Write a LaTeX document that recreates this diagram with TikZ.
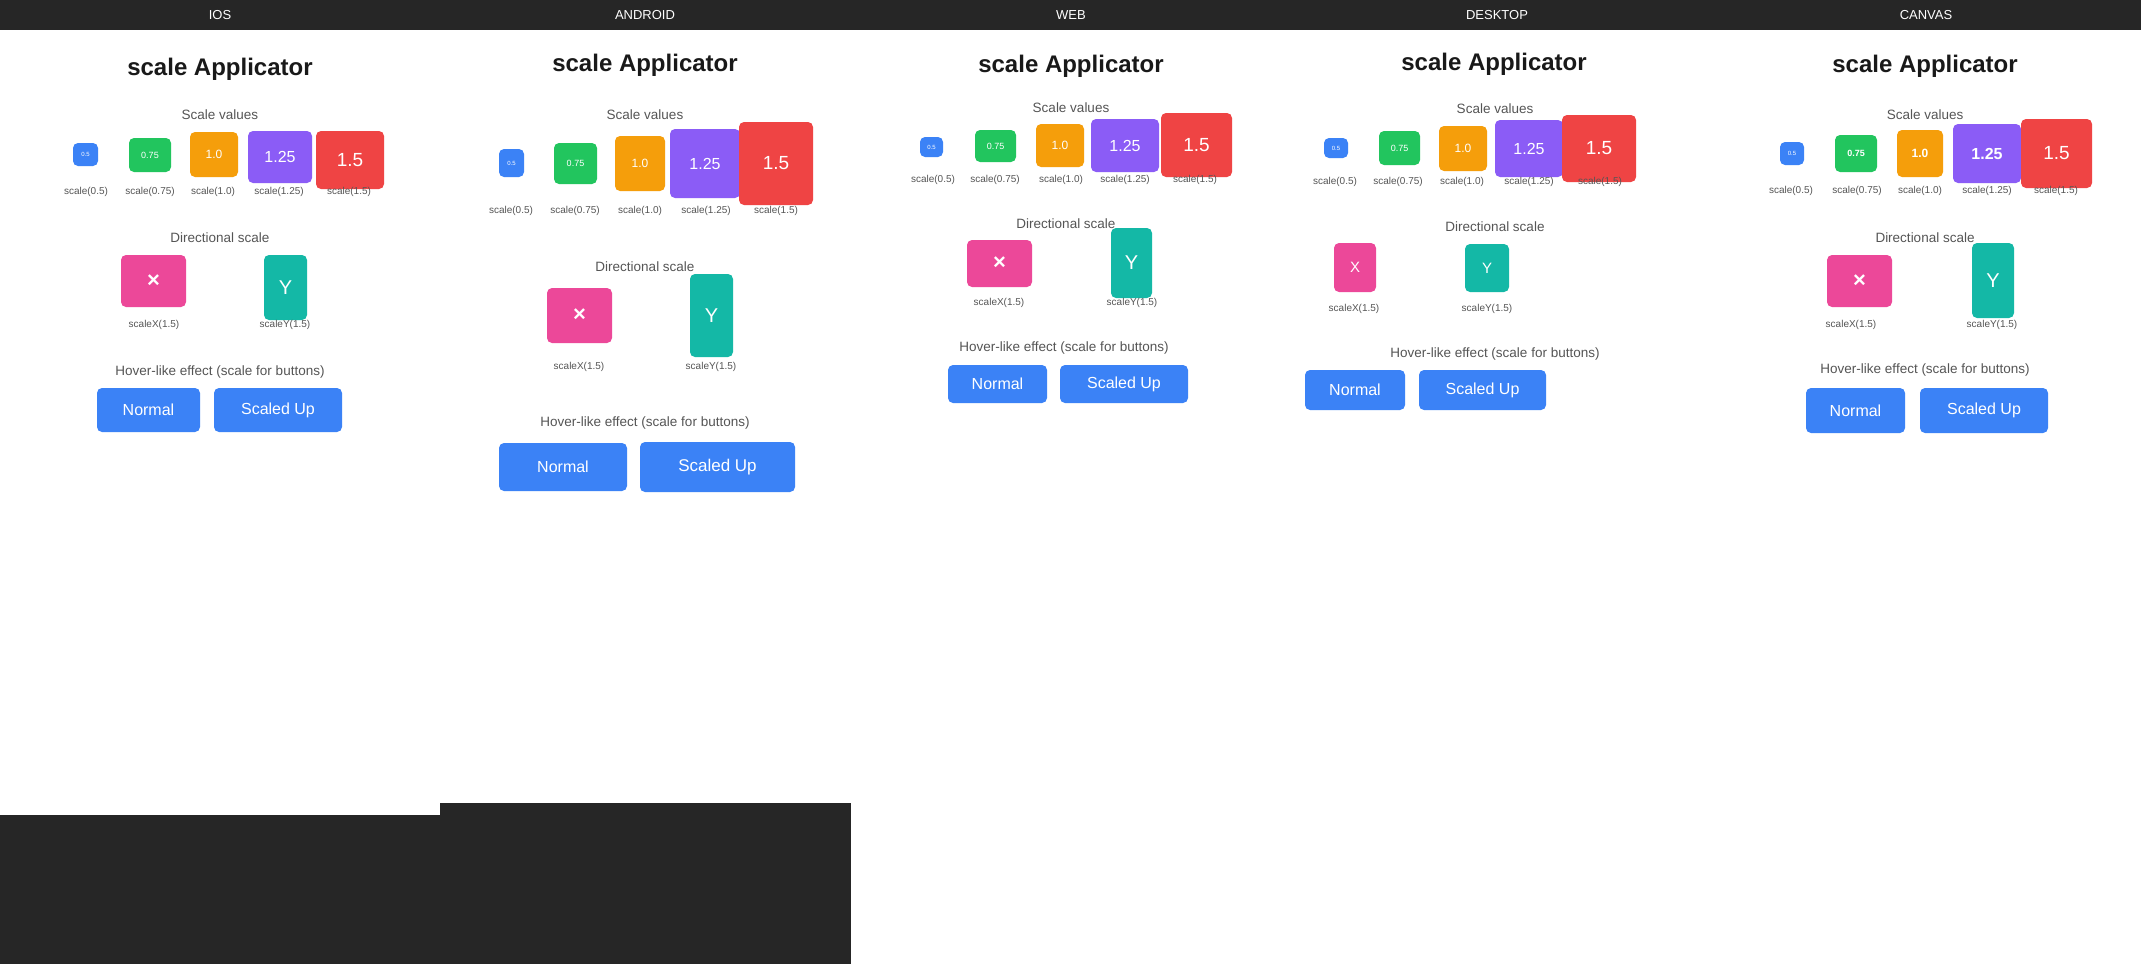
\documentclass[tikz,border=0pt]{standalone}
\usepackage{fontspec}
\setmainfont{Liberation Sans}
\definecolor{hdr}{HTML}{262626}
\definecolor{cB}{HTML}{3B82F6}
\definecolor{cG}{HTML}{22C55E}
\definecolor{cO}{HTML}{F59E0B}
\definecolor{cP}{HTML}{8B5CF6}
\definecolor{cR}{HTML}{EF4444}
\definecolor{cK}{HTML}{EC4899}
\definecolor{cT}{HTML}{14B8A6}
\definecolor{tg}{HTML}{555555}
\newcommand\fs[1]{\fontsize{#1}{#1}\selectfont}
\newcommand\bx[8]{\pgfmathsetmacro\bw{#3-#1}\pgfmathsetmacro\bh{#4-#2}%
\node[box,fill=#5,minimum width=\bw pt,minimum height=\bh pt,font=\fs{#8}] (#6) at ({(#1+#3)/2},{(#2+#4)/2}) {#7};}
\tikzset{box/.style={rounded corners=5pt,inner sep=0pt,text=white,draw=none},
 ttl/.style={font=\bfseries\fs{24},text=black!90},
 sec/.style={font=\fs{13.5},text=tg},
 lab/.style={font=\fs{10},text=tg},
 hd/.style={font=\fs{13},text=white}}
\begin{document}
\begin{tikzpicture}[x=1pt,y=-1pt]
\useasboundingbox (0,0) rectangle (2141,964);
\fill[white] (0,0) rectangle (2141,964);
\fill[hdr] (0,0) rectangle (2141,30);
\fill[hdr] (0,815) rectangle (440,964);
\fill[hdr] (440,803) rectangle (851,964);
\node[hd] (h1) at (220,15) {IOS};
\node[hd] (h2) at (645,15) {ANDROID};
\node[hd] (h3) at (1071,15) {WEB};
\node[hd] (h4) at (1497,15) {DESKTOP};
\node[hd] (h5) at (1926,15) {CANVAS};
% IOS
\node[ttl] (t1) at (220,69) {scale Applicator};
\node[sec] (s1) at (220,115) {Scale values};
\bx{73}{143}{98}{166}{cB}{a1}{0.5}{6}
\bx{129}{138}{171}{172}{cG}{b1}{0.75}{9}
\bx{190}{132}{238}{177}{cO}{c1}{1.0}{12}
\bx{248}{131}{312}{183}{cP}{d1}{1.25}{16}
\bx{316}{131}{384}{189}{cR}{e1}{1.5}{19}
\node[lab] at (86,192) {scale(0.5)};
\node[lab] at (150,192) {scale(0.75)};
\node[lab] at (213,192) {scale(1.0)};
\node[lab] at (279,192) {scale(1.25)};
\node[lab] at (349,192) {scale(1.5)};
\node[sec] at (220,238) {Directional scale};
\bx{121}{255}{186}{307}{cK}{x1}{\bfseries ×}{22}
\bx{264}{255}{307}{320}{cT}{y1}{Y}{20}
\node[lab] at (154,325) {scaleX(1.5)};
\node[lab] at (285,325) {scaleY(1.5)};
\node[sec] at (220,372) {Hover-like effect (scale for buttons)};
\bx{97}{388}{200}{432}{cB}{n1}{Normal}{16}
\bx{214}{388}{342}{432}{cB}{u1}{Scaled Up}{16}
% ANDROID
\node[ttl] (t2) at (645,65) {scale Applicator};
\node[sec] at (645,115) {Scale values};
\bx{499}{149}{524}{177}{cB}{a2}{0.5}{6}
\bx{554}{143}{597}{184}{cG}{b2}{0.75}{9}
\bx{615}{136}{665}{191}{cO}{c2}{1.0}{12}
\bx{670}{129}{740}{198}{cP}{d2}{1.25}{16}
\bx{739}{122}{813}{205}{cR}{e2}{1.5}{19}
\node[lab] at (511,211) {scale(0.5)};
\node[lab] at (575,211) {scale(0.75)};
\node[lab] at (640,211) {scale(1.0)};
\node[lab] at (706,211) {scale(1.25)};
\node[lab] at (776,211) {scale(1.5)};
\node[sec] at (645,267) {Directional scale};
\bx{547}{288}{612}{343}{cK}{x2}{\bfseries ×}{22}
\bx{690}{274}{733}{357}{cT}{y2}{Y}{20}
\node[lab] at (579,367) {scaleX(1.5)};
\node[lab] at (711,367) {scaleY(1.5)};
\node[sec] at (645,423) {Hover-like effect (scale for buttons)};
\bx{499}{443}{627}{491}{cB}{n2}{Normal}{16}
\bx{640}{442}{795}{492}{cB}{u2}{Scaled Up}{17}
% WEB
\node[ttl] (t3) at (1071,66) {scale Applicator};
\node[sec] at (1071,108) {Scale values};
\bx{920}{137}{943}{157}{cB}{a3}{0.5}{6}
\bx{975}{130}{1016}{162}{cG}{b3}{0.75}{9}
\bx{1036}{124}{1084}{167}{cO}{c3}{1.0}{12}
\bx{1091}{119}{1159}{172}{cP}{d3}{1.25}{16}
\bx{1161}{113}{1232}{177}{cR}{e3}{1.5}{19}
\node[lab] at (933,180) {scale(0.5)};
\node[lab] at (995,180) {scale(0.75)};
\node[lab] at (1061,180) {scale(1.0)};
\node[lab] at (1125,180) {scale(1.25)};
\node[lab] at (1195,180) {scale(1.5)};
\node[sec] at (1066,224) {Directional scale};
\bx{967}{240}{1032}{287}{cK}{x3}{\bfseries ×}{22}
\bx{1111}{228}{1152}{298}{cT}{y3}{Y}{20}
\node[lab] at (999,303) {scaleX(1.5)};
\node[lab] at (1132,303) {scaleY(1.5)};
\node[sec] at (1064,348) {Hover-like effect (scale for buttons)};
\bx{948}{365}{1047}{403}{cB}{n3}{Normal}{16}
\bx{1060}{365}{1188}{403}{cB}{u3}{Scaled Up}{16}
% DESKTOP
\node[ttl] (t4) at (1494,64) {scale Applicator};
\node[sec] at (1495,109) {Scale values};
\bx{1324}{138}{1348}{158}{cB}{a4}{0.5}{6}
\bx{1379}{131}{1420}{165}{cG}{b4}{0.75}{9}
\bx{1439}{126}{1487}{171}{cO}{c4}{1.0}{12}
\bx{1495}{120}{1563}{177}{cP}{d4}{1.25}{16}
\bx{1562}{115}{1636}{182}{cR}{e4}{1.5}{19}
\node[lab] at (1335,182) {scale(0.5)};
\node[lab] at (1398,182) {scale(0.75)};
\node[lab] at (1462,182) {scale(1.0)};
\node[lab] at (1529,182) {scale(1.25)};
\node[lab] at (1600,182) {scale(1.5)};
\node[sec] at (1495,227) {Directional scale};
\bx{1334}{243}{1376}{292}{cK}{x4}{X}{15}
\bx{1465}{244}{1509}{292}{cT}{y4}{Y}{15}
\node[lab] at (1354,309) {scaleX(1.5)};
\node[lab] at (1487,309) {scaleY(1.5)};
\node[sec] at (1495,354) {Hover-like effect (scale for buttons)};
\bx{1305}{370}{1405}{410}{cB}{n4}{Normal}{16}
\bx{1419}{370}{1546}{410}{cB}{u4}{Scaled Up}{16}
% CANVAS
\node[ttl] (t5) at (1925,66) {scale Applicator};
\node[sec] at (1925,115) {Scale values};
\bx{1780}{142}{1804}{165}{cB}{a5}{0.5}{6}
\bx{1835}{135}{1877}{172}{cG}{b5}{\bfseries 0.75}{9}
\bx{1897}{130}{1943}{177}{cO}{c5}{\bfseries 1.0}{12}
\bx{1953}{124}{2021}{183}{cP}{d5}{\bfseries 1.25}{16}
\bx{2021}{119}{2092}{188}{cR}{e5}{1.5}{19}
\node[lab] at (1791,191) {scale(0.5)};
\node[lab] at (1857,191) {scale(0.75)};
\node[lab] at (1920,191) {scale(1.0)};
\node[lab] at (1987,191) {scale(1.25)};
\node[lab] at (2056,191) {scale(1.5)};
\node[sec] at (1925,238) {Directional scale};
\bx{1827}{255}{1892}{307}{cK}{x5}{\bfseries ×}{22}
\bx{1972}{243}{2014}{318}{cT}{y5}{Y}{20}
\node[lab] at (1851,325) {scaleX(1.5)};
\node[lab] at (1992,325) {scaleY(1.5)};
\node[sec] at (1925,370) {Hover-like effect (scale for buttons)};
\bx{1806}{388}{1905}{433}{cB}{n5}{Normal}{16}
\bx{1920}{388}{2048}{433}{cB}{u5}{Scaled Up}{16}
\end{tikzpicture}
\end{document}
